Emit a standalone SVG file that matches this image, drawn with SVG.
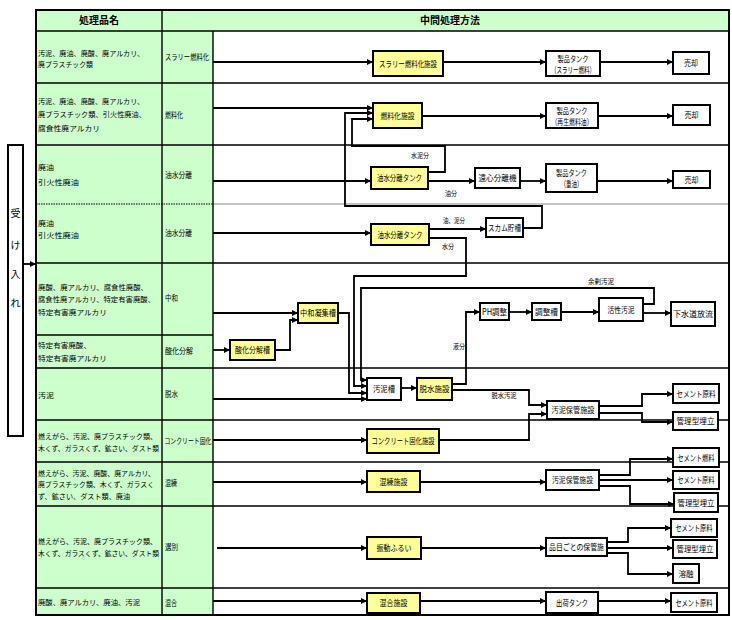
<svg xmlns="http://www.w3.org/2000/svg" width="732" height="620" viewBox="0 0 732 620">
<style>
text{font-family:"Noto Sans CJK JP","Noto Sans",sans-serif;fill:#000}
.hd{font-size:10px;font-weight:bold;text-anchor:middle}
.lt{font-size:7.4px}
.l7{font-size:7px}
.l68{font-size:6.8px}
.mt{font-size:7.5px}
.bt{font-size:8.5px;text-anchor:middle}
.lb{font-size:6.5px;text-anchor:middle}
.ya{fill:#ffff99;stroke:#000;stroke-width:2}
.wh{fill:#fff;stroke:#000;stroke-width:2}
.grid{stroke:#000;stroke-width:1.4;fill:none}
.cn{fill:none;stroke:#000;stroke-width:1.8}
</style>
<defs>
<marker id="ah" markerUnits="userSpaceOnUse" markerWidth="7" markerHeight="7" refX="6" refY="3.5" orient="auto"><path d="M0,0.5 L6,3.5 L0,6.5 z" fill="#000"/></marker>
</defs>
<rect width="732" height="620" fill="#fff"/>
<g id="table">
<rect x="36" y="10" width="693" height="21" fill="#ccffcc"/>
<rect x="36" y="31" width="177" height="584" fill="#ccffcc"/>
<path class="grid" d="M36,31H729M36,83H729M36,145H729M36,263H729M36,368H729M36,420H729M36,462H729M36,506H729M36,588H729M36,335H213"/>
<path d="M36,204H213" stroke="#000" stroke-width="1.2" stroke-dasharray="1.5,1"/>
<path d="M213,204H729" stroke="#888" stroke-width="1.2"/>
<path class="grid" d="M162,10V615M213,31V615"/>
<rect x="36" y="10" width="693" height="605" fill="none" stroke="#000" stroke-width="2"/>
<text class="hd" x="99" y="24">処理品名</text>
<text class="hd" x="450" y="24">中間処理方法</text>
</g>
<g id="left-labels">
<text class="lt" x="38" y="55.5" textLength="106" lengthAdjust="spacingAndGlyphs">汚泥、廃油、廃酸、廃アルカリ、</text>
<text class="lt" x="38" y="67" textLength="55" lengthAdjust="spacingAndGlyphs">廃プラスチック類</text>
<text class="mt" x="165" y="60" textLength="44" lengthAdjust="spacingAndGlyphs">スラリー燃料化</text>
<text class="lt" x="38" y="103.5" textLength="106" lengthAdjust="spacingAndGlyphs">汚泥、廃油、廃酸、廃アルカリ、</text>
<text class="lt" x="38" y="117" textLength="108" lengthAdjust="spacingAndGlyphs">廃プラスチック類、引火性廃油、</text>
<text class="lt" x="38" y="130.5" textLength="62" lengthAdjust="spacingAndGlyphs">腐食性廃アルカリ</text>
<text class="mt" x="165" y="118" textLength="18" lengthAdjust="spacingAndGlyphs">燃料化</text>
<text class="lt" x="38" y="170" textLength="16" lengthAdjust="spacingAndGlyphs">廃油</text>
<text class="lt" x="38" y="184.5" textLength="41" lengthAdjust="spacingAndGlyphs">引火性廃油</text>
<text class="mt" x="165" y="178" textLength="27" lengthAdjust="spacingAndGlyphs">油水分離</text>
<text class="lt" x="38" y="225.5" textLength="16" lengthAdjust="spacingAndGlyphs">廃油</text>
<text class="lt" x="38" y="238" textLength="41" lengthAdjust="spacingAndGlyphs">引火性廃油</text>
<text class="mt" x="165" y="236" textLength="27" lengthAdjust="spacingAndGlyphs">油水分離</text>
<text class="lt" x="38" y="289.5" textLength="110" lengthAdjust="spacingAndGlyphs">廃酸、廃アルカリ、腐食性廃酸、</text>
<text class="lt" x="38" y="302" textLength="117" lengthAdjust="spacingAndGlyphs">腐食性廃アルカリ、特定有害廃酸、</text>
<text class="lt" x="38" y="314.5" textLength="69" lengthAdjust="spacingAndGlyphs">特定有害廃アルカリ</text>
<text class="mt" x="165" y="301" textLength="13" lengthAdjust="spacingAndGlyphs">中和</text>
<text class="lt" x="38" y="348" textLength="53" lengthAdjust="spacingAndGlyphs">特定有害廃酸、</text>
<text class="lt" x="38" y="360.5" textLength="69" lengthAdjust="spacingAndGlyphs">特定有害廃アルカリ</text>
<text class="mt" x="165" y="354" textLength="28" lengthAdjust="spacingAndGlyphs">酸化分解</text>
<text class="lt" x="38" y="397.5" textLength="16" lengthAdjust="spacingAndGlyphs">汚泥</text>
<text class="mt" x="165" y="397" textLength="13" lengthAdjust="spacingAndGlyphs">脱水</text>
<text class="l7" x="38" y="438.5" textLength="119" lengthAdjust="spacingAndGlyphs">燃えがら、汚泥、廃プラスチック類、</text>
<text class="l68" x="38" y="450.5" textLength="121" lengthAdjust="spacingAndGlyphs">木くず、ガラスくず、鉱さい、ダスト類</text>
<text class="mt" x="164.5" y="444" textLength="47" lengthAdjust="spacingAndGlyphs">コンクリート固化</text>
<text class="l7" x="38" y="475.5" textLength="117" lengthAdjust="spacingAndGlyphs">燃えがら、汚泥、廃酸、廃アルカリ、</text>
<text class="l7" x="38" y="487" textLength="116" lengthAdjust="spacingAndGlyphs">廃プラスチック類、木くず、ガラスく</text>
<text class="lt" x="38" y="498.5" textLength="92" lengthAdjust="spacingAndGlyphs">ず、鉱さい、ダスト類、廃油</text>
<text class="mt" x="165" y="486" textLength="12" lengthAdjust="spacingAndGlyphs">混練</text>
<text class="l7" x="38" y="543.5" textLength="119" lengthAdjust="spacingAndGlyphs">燃えがら、汚泥、廃プラスチック類、</text>
<text class="l68" x="38" y="556" textLength="121" lengthAdjust="spacingAndGlyphs">木くず、ガラスくず、鉱さい、ダスト類</text>
<text class="mt" x="165" y="550" textLength="13" lengthAdjust="spacingAndGlyphs">選別</text>
<text class="lt" x="38" y="605" textLength="102" lengthAdjust="spacingAndGlyphs">廃酸、廃アルカリ、廃油、汚泥</text>
<text class="mt" x="165" y="606" textLength="12" lengthAdjust="spacingAndGlyphs">混合</text>
</g>
<g id="uketsuke">
<rect x="8" y="145" width="15" height="291" fill="#fff" stroke="#000" stroke-width="2"/>
<text x="15.5" y="217" font-size="10" text-anchor="middle">受</text>
<text x="15.5" y="249" font-size="10" text-anchor="middle">け</text>
<text x="15.5" y="278" font-size="10" text-anchor="middle">入</text>
<text x="15.5" y="307" font-size="10" text-anchor="middle">れ</text>
</g>
<g id="connectors">
<path class="cn" d="M23,264H36" marker-end="url(#ah)"/>
<path class="cn" d="M213,62H373" marker-end="url(#ah)"/>
<path class="cn" d="M443,62H546" marker-end="url(#ah)"/>
<path class="cn" d="M600,62H673" marker-end="url(#ah)"/>
<path class="cn" d="M213,108H373" marker-end="url(#ah)"/>
<path class="cn" d="M422,116H546" marker-end="url(#ah)"/>
<path class="cn" d="M598,116H673" marker-end="url(#ah)"/>
<path class="cn" d="M428,172H445V146H352V119H373" marker-end="url(#ah)"/>
<path class="cn" d="M523,228H542V206H345V113H373" marker-end="url(#ah)"/>
<path class="cn" d="M213,181H371" marker-end="url(#ah)"/>
<path class="cn" d="M428,181H475" marker-end="url(#ah)"/>
<path class="cn" d="M520,181H546" marker-end="url(#ah)"/>
<path class="cn" d="M597,181H673" marker-end="url(#ah)"/>
<path class="cn" d="M213,233H371" marker-end="url(#ah)"/>
<path class="cn" d="M429,229H486" marker-end="url(#ah)"/>
<path class="cn" d="M429,238H466V276H354V386H367" marker-end="url(#ah)"/>
<path class="cn" d="M643,304H654V288H361V380H367" marker-end="url(#ah)"/>
<path class="cn" d="M213,313H298" marker-end="url(#ah)"/>
<path class="cn" d="M213,350H230" marker-end="url(#ah)"/>
<path class="cn" d="M275,350H290V320H298" marker-end="url(#ah)"/>
<path class="cn" d="M338,313H349V393H367" marker-end="url(#ah)"/>
<path class="cn" d="M213,399H367" marker-end="url(#ah)"/>
<path class="cn" d="M401,388H417" marker-end="url(#ah)"/>
<path class="cn" d="M452,384H466V312H480" marker-end="url(#ah)"/>
<path class="cn" d="M509,312H532" marker-end="url(#ah)"/>
<path class="cn" d="M561,312H599" marker-end="url(#ah)"/>
<path class="cn" d="M643,313H671" marker-end="url(#ah)"/>
<path class="cn" d="M452,390H529V405H547" marker-end="url(#ah)"/>
<path class="cn" d="M213,440H367" marker-end="url(#ah)"/>
<path class="cn" d="M439,440H529V414H547" marker-end="url(#ah)"/>
<path class="cn" d="M599,406H642V394H673" marker-end="url(#ah)"/>
<path class="cn" d="M599,413H642V422H673" marker-end="url(#ah)"/>
<path class="cn" d="M213,482H367" marker-end="url(#ah)"/>
<path class="cn" d="M420,482H546" marker-end="url(#ah)"/>
<path class="cn" d="M599,475H630V459H673" marker-end="url(#ah)"/>
<path class="cn" d="M599,480H673" marker-end="url(#ah)"/>
<path class="cn" d="M599,486H630V504H674" marker-end="url(#ah)"/>
<path class="cn" d="M217,548H367" marker-end="url(#ah)"/>
<path class="cn" d="M421,548H546" marker-end="url(#ah)"/>
<path class="cn" d="M607,542H628V528H671" marker-end="url(#ah)"/>
<path class="cn" d="M607,548H673" marker-end="url(#ah)"/>
<path class="cn" d="M607,553H628V574H673" marker-end="url(#ah)"/>
<path class="cn" d="M213,601H367" marker-end="url(#ah)"/>
<path class="cn" d="M420,601H546" marker-end="url(#ah)"/>
<path class="cn" d="M598,601H671" marker-end="url(#ah)"/>
<text class="lb" x="420" y="158" textLength="18" lengthAdjust="spacingAndGlyphs">水泥分</text>
<text class="lb" x="451" y="196" textLength="12" lengthAdjust="spacingAndGlyphs">油分</text>
<text class="lb" x="454" y="223" textLength="22" lengthAdjust="spacingAndGlyphs">油、泥分</text>
<text class="lb" x="448" y="249" textLength="12" lengthAdjust="spacingAndGlyphs">水分</text>
<text class="lb" x="601" y="284" textLength="26" lengthAdjust="spacingAndGlyphs">余剰汚泥</text>
<text class="lb" x="459" y="349" textLength="12" lengthAdjust="spacingAndGlyphs">液分</text>
<text class="lb" x="504" y="398" textLength="25" lengthAdjust="spacingAndGlyphs">脱水汚泥</text>
</g>
<g id="n1"><rect class="ya" x="373" y="51" width="70" height="25"/><text class="bt" x="408" y="66.5" textLength="58" lengthAdjust="spacingAndGlyphs">スラリー燃料化施設</text></g>
<g id="n2"><rect class="wh" x="546" y="51" width="54" height="25"/><text class="bt" x="573" y="61.5" textLength="31" lengthAdjust="spacingAndGlyphs">製品タンク</text><text class="bt" x="573" y="72.5" textLength="44" lengthAdjust="spacingAndGlyphs">（スラリー燃料）</text></g>
<g id="n3"><rect class="wh" x="673" y="52" width="36" height="22"/><text class="bt" x="691" y="66" textLength="14" lengthAdjust="spacingAndGlyphs">売却</text></g>
<g id="n4"><rect class="ya" x="373" y="103" width="49" height="25"/><text class="bt" x="397.5" y="118.5" textLength="34" lengthAdjust="spacingAndGlyphs">燃料化施設</text></g>
<g id="n5"><rect class="wh" x="546" y="103" width="52" height="25"/><text class="bt" x="572" y="113.5" textLength="31" lengthAdjust="spacingAndGlyphs">製品タンク</text><text class="bt" x="572" y="124.5" textLength="41" lengthAdjust="spacingAndGlyphs">（再生燃料油）</text></g>
<g id="n6"><rect class="wh" x="673" y="105" width="37" height="20"/><text class="bt" x="691.5" y="118" textLength="14" lengthAdjust="spacingAndGlyphs">売却</text></g>
<g id="n7"><rect class="ya" x="371" y="167" width="57" height="22"/><text class="bt" x="399.5" y="181" textLength="45" lengthAdjust="spacingAndGlyphs">油水分離タンク</text></g>
<g id="n8"><rect class="wh" x="475" y="168" width="45" height="20"/><text class="bt" x="497.5" y="181" textLength="38" lengthAdjust="spacingAndGlyphs">遠心分離機</text></g>
<g id="n9"><rect class="wh" x="546" y="164" width="51" height="28"/><text class="bt" x="571.5" y="175.5" textLength="31" lengthAdjust="spacingAndGlyphs">製品タンク</text><text class="bt" x="571.5" y="186.5" textLength="22" lengthAdjust="spacingAndGlyphs">（重油）</text></g>
<g id="n10"><rect class="wh" x="673" y="171" width="37" height="17"/><text class="bt" x="691.5" y="182.5" textLength="14" lengthAdjust="spacingAndGlyphs">売却</text></g>
<g id="n11"><rect class="ya" x="371" y="224" width="58" height="21"/><text class="bt" x="400" y="237.5" textLength="45" lengthAdjust="spacingAndGlyphs">油水分離タンク</text></g>
<g id="n12"><rect class="wh" x="486" y="218" width="37" height="19"/><text class="bt" x="504.5" y="230.5" textLength="33" lengthAdjust="spacingAndGlyphs">スカム貯槽</text></g>
<g id="n13"><rect class="ya" x="298" y="303" width="40" height="20"/><text class="bt" x="318" y="316" textLength="36" lengthAdjust="spacingAndGlyphs">中和凝集槽</text></g>
<g id="n14"><rect class="ya" x="230" y="340" width="45" height="20"/><text class="bt" x="252.5" y="353" textLength="35" lengthAdjust="spacingAndGlyphs">酸化分解槽</text></g>
<g id="n15"><rect class="wh" x="480" y="303" width="29" height="17"/><text class="bt" x="494.5" y="314.5" textLength="25" lengthAdjust="spacingAndGlyphs">PH調整</text></g>
<g id="n16"><rect class="wh" x="532" y="303" width="29" height="17"/><text class="bt" x="546.5" y="314.5" textLength="23" lengthAdjust="spacingAndGlyphs">調整槽</text></g>
<g id="n17"><rect class="wh" x="599" y="298" width="44" height="23"/><text class="bt" x="621" y="312.5" textLength="27" lengthAdjust="spacingAndGlyphs">活性汚泥</text></g>
<g id="n18"><rect class="wh" x="671" y="302" width="44" height="24"/><text class="bt" x="693" y="317" textLength="40" lengthAdjust="spacingAndGlyphs">下水道放流</text></g>
<g id="n19"><rect class="wh" x="367" y="378" width="34" height="22"/><text class="bt" x="384" y="392" textLength="22" lengthAdjust="spacingAndGlyphs">汚泥槽</text></g>
<g id="n20"><rect class="ya" x="417" y="378" width="35" height="22"/><text class="bt" x="434.5" y="392" textLength="30" lengthAdjust="spacingAndGlyphs">脱水施設</text></g>
<g id="n21"><rect class="wh" x="547" y="401" width="52" height="18"/><text class="bt" x="573" y="413" textLength="43" lengthAdjust="spacingAndGlyphs">汚泥保管施設</text></g>
<g id="n22"><rect class="wh" x="673" y="384" width="46" height="19"/><text class="bt" x="696" y="396.5" textLength="39" lengthAdjust="spacingAndGlyphs">セメント原料</text></g>
<g id="n23"><rect class="wh" x="673" y="412" width="45" height="18"/><text class="bt" x="695.5" y="424" textLength="38" lengthAdjust="spacingAndGlyphs">管理型埋立</text></g>
<g id="n24"><rect class="ya" x="367" y="429" width="72" height="24"/><text class="bt" x="403" y="444" textLength="63" lengthAdjust="spacingAndGlyphs">コンクリート固化施設</text></g>
<g id="n25"><rect class="ya" x="367" y="471" width="53" height="21"/><text class="bt" x="393.5" y="484.5" textLength="28" lengthAdjust="spacingAndGlyphs">混練施設</text></g>
<g id="n26"><rect class="wh" x="546" y="470" width="53" height="20"/><text class="bt" x="572.5" y="483" textLength="41" lengthAdjust="spacingAndGlyphs">汚泥保管施設</text></g>
<g id="n27"><rect class="wh" x="673" y="448" width="46" height="19"/><text class="bt" x="696" y="460.5" textLength="37" lengthAdjust="spacingAndGlyphs">セメント燃料</text></g>
<g id="n28"><rect class="wh" x="673" y="471" width="46" height="18"/><text class="bt" x="696" y="483" textLength="37" lengthAdjust="spacingAndGlyphs">セメント原料</text></g>
<g id="n29"><rect class="wh" x="674" y="493" width="44" height="19"/><text class="bt" x="696" y="505.5" textLength="37" lengthAdjust="spacingAndGlyphs">管理型埋立</text></g>
<g id="n30"><rect class="ya" x="367" y="537" width="54" height="22"/><text class="bt" x="394" y="551" textLength="35" lengthAdjust="spacingAndGlyphs">振動ふるい</text></g>
<g id="n31"><rect class="wh" x="546" y="538" width="61" height="18"/><text class="bt" x="576.5" y="550" textLength="55" lengthAdjust="spacingAndGlyphs">品目ごとの保管施</text></g>
<g id="n32"><rect class="wh" x="671" y="519" width="46" height="18"/><text class="bt" x="694" y="531" textLength="37" lengthAdjust="spacingAndGlyphs">セメント原料</text></g>
<g id="n33"><rect class="wh" x="673" y="540" width="44" height="18"/><text class="bt" x="695" y="552" textLength="37" lengthAdjust="spacingAndGlyphs">管理型埋立</text></g>
<g id="n34"><rect class="wh" x="673" y="564" width="26" height="19"/><text class="bt" x="686" y="576.5" textLength="15" lengthAdjust="spacingAndGlyphs">溶融</text></g>
<g id="n35"><rect class="ya" x="367" y="593" width="53" height="20"/><text class="bt" x="393.5" y="606" textLength="28" lengthAdjust="spacingAndGlyphs">混合施設</text></g>
<g id="n36"><rect class="wh" x="546" y="592" width="52" height="21"/><text class="bt" x="572" y="605.5" textLength="32" lengthAdjust="spacingAndGlyphs">出荷タンク</text></g>
<g id="n37"><rect class="wh" x="671" y="593" width="46" height="19"/><text class="bt" x="694" y="605.5" textLength="37" lengthAdjust="spacingAndGlyphs">セメント原料</text></g>
</svg>
